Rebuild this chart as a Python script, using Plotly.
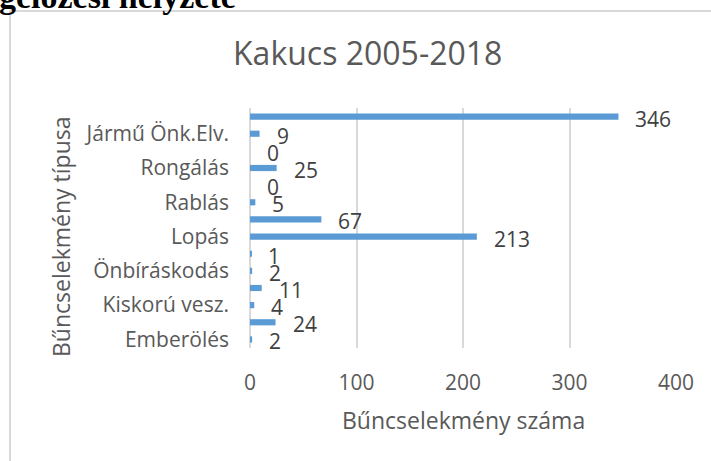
import plotly.graph_objects as go

# Crime counts, bottom to top of the chart
values = [2, 24, 4, 11, 2, 1, 213, 67, 5, 0, 25, 0, 9, 346]
# Category labels shown on every second row
tick_labels = ["Emberölés", "Kiskorú vesz.", "Önbíráskodás", "Lopás",
               "Rablás", "Rongálás", "Jármű Önk.Elv."]
x_ticks = [0, 100, 200, 300, 400]

title_text = "Kakucs 2005-2018"
x_title = "Bűncselekmény száma"
y_title = "Bűncselekmény típusa"
heading_text = "Bűnmegelőzési helyzete"

W, H = 711, 461
L, R, T, B = 250, 35, 108, 113
pw, ph = W - L - R, H - T - B

FONT = "Open Sans"
TXT = "#595959"
LBL = "#404040"
GRID = "#d9d9d9"
BAR = "#5b9bd5"

pos = list(range(len(values)))


def px(x):
    return (x - L) / pw


def py(y):
    return (H - B - y) / ph


fig = go.Figure(go.Bar(
    x=values, y=pos, orientation="h",
    marker=dict(color=BAR, line=dict(width=0)),
    width=0.36, hoverinfo="x",
))

annotations = []
# value labels beside each bar
for v, p in zip(values, pos):
    annotations.append(dict(
        x=v, y=p, xref="x", yref="y", text=str(v), showarrow=False,
        xanchor="left", yanchor="middle", xshift=15, yshift=-2,
        font=dict(family=FONT, size=21, color=LBL),
    ))

annotations += [
    dict(x=px(367), y=py(53), xref="paper", yref="paper", text=title_text,
         showarrow=False, xanchor="center", yanchor="middle",
         font=dict(family=FONT, size=32, color=TXT)),
    dict(x=px(463), y=py(420), xref="paper", yref="paper", text=x_title,
         showarrow=False, xanchor="center", yanchor="middle",
         font=dict(family=FONT, size=23, color=TXT)),
    dict(x=px(61), y=py(237), xref="paper", yref="paper", text=y_title,
         showarrow=False, xanchor="center", yanchor="middle", textangle=-90,
         font=dict(family=FONT, size=23, color=TXT)),
    dict(x=px(238), y=py(17), xref="paper", yref="paper", text="<b>" + heading_text + "</b>",
         showarrow=False, xanchor="right", yanchor="bottom",
         font=dict(family="Liberation Serif", size=34, color="#000000")),
]

fig.update_layout(
    width=W, height=H,
    margin=dict(l=L, r=R, t=T, b=B, pad=0),
    paper_bgcolor="white", plot_bgcolor="white",
    showlegend=False,
    annotations=annotations,
    shapes=[dict(type="rect", xref="paper", yref="paper",
                 x0=px(10), y0=py(2000), x1=px(2000), y1=py(11),
                 line=dict(color=GRID, width=2), layer="below")],
    xaxis=dict(
        range=[0, 400], tickvals=x_ticks, ticktext=[str(t) for t in x_ticks],
        showgrid=True, gridcolor=GRID, gridwidth=1.5,
        zeroline=True, zerolinecolor=GRID, zerolinewidth=1.5,
        showline=False, ticks="", ticklabelstandoff=20,
        tickfont=dict(family=FONT, size=21, color=TXT),
        fixedrange=True,
    ),
    yaxis=dict(
        range=[-0.5, len(values) - 0.5],
        tickvals=pos[::2], ticktext=tick_labels,
        showgrid=False, zeroline=False, showline=False, ticks="",
        ticklabelstandoff=20,
        tickfont=dict(family=FONT, size=21, color=TXT),
        fixedrange=True,
    ),
)

fig.write_html("out.html")
